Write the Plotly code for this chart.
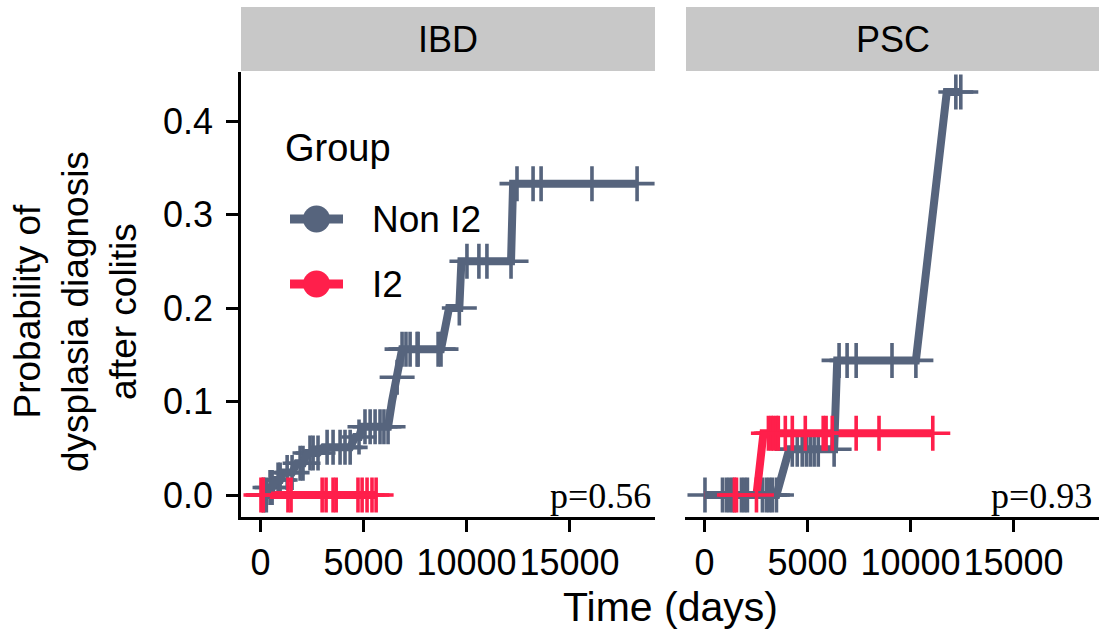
import plotly.graph_objects as go

# ---- cumulative incidence estimates (time in days, estimate, censored flag) ----
ibd_non_time = [0, 150, 280, 360, 460, 560, 700, 850, 950, 1100, 1290, 1530, 1770, 1920, 2060,
                2260, 2400, 2550, 2790, 3050, 3230, 3520, 3860, 4100, 4350, 4600, 4780, 4930,
                5070, 5320, 5560, 5800, 5990, 6190, 6380, 6630, 6820, 6870, 7060, 7260, 7600,
                7650, 8620, 8760, 9150, 9650, 9750, 10020, 10600, 10990, 12160, 12260, 12450,
                13230, 13620, 16090, 18280]
ibd_non_est = [0, 0, 0, 0.008, 0.008, 0.008, 0.016, 0.016, 0.016, 0.024, 0.024, 0.024, 0.034,
               0.034, 0.034, 0.045, 0.045, 0.045, 0.045, 0.051, 0.051, 0.051, 0.051, 0.051,
               0.051, 0.062, 0.062, 0.073, 0.073, 0.073, 0.073, 0.073, 0.073, 0.073, 0.100,
               0.126, 0.156, 0.156, 0.156, 0.156, 0.156, 0.156, 0.156, 0.156, 0.200, 0.200,
               0.250, 0.250, 0.250, 0.250, 0.250, 0.333, 0.333, 0.333, 0.333, 0.333, 0.333]
ibd_non_cens = [0, 1, 1, 0, 1, 1, 0, 1, 1, 0, 1, 1, 0, 1, 1, 0, 1, 1, 1, 0, 1, 1, 1, 1, 1, 0, 1,
                0, 1, 1, 1, 1, 1, 1, 0, 1, 0, 1, 1, 1, 1, 1, 1, 1, 0, 1, 0, 1, 1, 1, 1, 0, 1, 1,
                1, 1, 1]

ibd_i2_time = [0, 20, 130, 1330, 1480, 2990, 3180, 3520, 3670, 4730, 4930, 5170, 5410, 5610]
ibd_i2_est = [0] * len(ibd_i2_time)
ibd_i2_cens = [0] + [1] * (len(ibd_i2_time) - 1)

psc_non_time = [0, 20, 870, 1060, 1210, 1360, 1790, 1940, 2080, 2810, 3000, 3150, 3290, 3490,
                4110, 4260, 4500, 4740, 4940, 5130, 5320, 5520, 6290, 6440, 6530, 6920, 7360,
                9100, 10260, 11760, 12200, 12440]
psc_non_est = [0] * 14 + [0.049] * 9 + [0.144] * 6 + [0.431] * 3
psc_non_cens = [0] + [1] * 13 + [0] + [1] * 8 + [0] + [1] * 5 + [0, 1, 1]

psc_i2_time = [0, 1450, 1550, 2520, 2860, 3100, 3240, 3340, 3490, 3580, 3920, 4260, 4890,
               5760, 5900, 6200, 7360, 8470, 11080]
psc_i2_est = [0] * 4 + [0.066] * 15
psc_i2_cens = [0, 1, 1, 1, 0] + [1] * 14

panels = ["IBD", "PSC"]
p_values = ["p=0.56", "p=0.93"]
groups = ["Non I2", "I2"]
x_ticks = [0, 5000, 10000, 15000]
y_ticks = [0.0, 0.1, 0.2, 0.3, 0.4]

GRAY = "#56647D"
RED = "#FF1F4B"
STRIP = "#C8C8C8"
FONT = "Liberation Sans, Arial, Helvetica, sans-serif"

W, H = 1099, 637


def px(x):
    return x / W


def py(y):
    return (H - y) / H


series = {
    "IBD": {"Non I2": (ibd_non_time, ibd_non_est, ibd_non_cens),
            "I2": (ibd_i2_time, ibd_i2_est, ibd_i2_cens)},
    "PSC": {"Non I2": (psc_non_time, psc_non_est, psc_non_cens),
            "I2": (psc_i2_time, psc_i2_est, psc_i2_cens)},
}
colors = {"Non I2": GRAY, "I2": RED}

fig = go.Figure()


def censor_trace(t, e, c, color, xa, ya):
    xs = [ti for ti, ci in zip(t, c) if ci]
    ys = [ei for ei, ci in zip(e, c) if ci]
    return go.Scatter(x=xs, y=ys, mode="markers", xaxis=xa, yaxis=ya, showlegend=False,
                      hoverinfo="skip",
                      marker=dict(symbol="cross-thin", size=25, color=color,
                                  line=dict(width=3.6, color=color)))


def line_trace(t, e, color, xa, ya):
    return go.Scatter(x=t, y=e, mode="lines", xaxis=xa, yaxis=ya, showlegend=False,
                      line=dict(color=color, width=8), hoverinfo="skip")


for i, panel in enumerate(panels):
    xa = "x" if i == 0 else "x2"
    ya = "y" if i == 0 else "y2"
    gt, ge, gc = series[panel]["Non I2"]
    rt, re_, rc = series[panel]["I2"]
    fig.add_trace(censor_trace(gt, ge, gc, GRAY, xa, ya))
    fig.add_trace(line_trace(rt, re_, RED, xa, ya))
    fig.add_trace(line_trace(gt, ge, GRAY, xa, ya))
    fig.add_trace(censor_trace(rt, re_, rc, RED, xa, ya))

x_range = [-950, 19150]
y_range = [-0.0235, 0.4524]
y_dom = [py(517), py(72)]
x_doms = [[px(241), px(655)], [px(685), px(1099)]]

axis_common = dict(range=x_range, tickvals=x_ticks, ticktext=[str(v) for v in x_ticks],
                   showgrid=False, zeroline=False, showline=True, linecolor="black",
                   linewidth=2.5, ticks="outside", ticklen=12, tickwidth=2.5,
                   tickcolor="black", tickfont=dict(family=FONT, size=36, color="black"))

fig.update_layout(
    width=W, height=H,
    margin=dict(l=0, r=0, t=0, b=0),
    paper_bgcolor="white", plot_bgcolor="white",
    showlegend=False,
    xaxis=dict(domain=x_doms[0], anchor="y", **axis_common),
    xaxis2=dict(domain=x_doms[1], anchor="y2", **axis_common),
    yaxis=dict(domain=y_dom, anchor="x", range=y_range, tickvals=y_ticks,
               ticktext=["%.1f" % v for v in y_ticks], showgrid=False, zeroline=False,
               showline=True, linecolor="black", linewidth=2.5, ticks="outside",
               ticklen=12, tickwidth=2.5, tickcolor="black", ticklabelstandoff=6,
               tickfont=dict(family=FONT, size=36, color="black")),
    yaxis2=dict(domain=y_dom, anchor="x2", range=y_range, showgrid=False, zeroline=False,
                showline=False, showticklabels=False, ticks=""),
)

shapes = []
annotations = []

# facet strips
for (x0, x1), panel in zip([(241, 655), (686, 1099)], panels):
    shapes.append(dict(type="rect", xref="paper", yref="paper", x0=px(x0), x1=px(x1),
                       y0=py(71), y1=py(7), fillcolor=STRIP, line=dict(width=0), layer="below"))
    annotations.append(dict(x=px((x0 + x1) / 2), y=py(40), xref="paper", yref="paper",
                            text=panel, showarrow=False, xanchor="center", yanchor="middle",
                            font=dict(family=FONT, size=36, color="black")))

# p-values
for xr, txt in zip([653, 1094], p_values):
    annotations.append(dict(x=px(xr), y=py(496), xref="paper", yref="paper", text=txt,
                            showarrow=False, xanchor="right", yanchor="middle",
                            font=dict(family="Liberation Serif, Times New Roman, serif",
                                      size=36, color="black")))

# legend
annotations.append(dict(x=px(283), y=py(148), xref="paper", yref="paper", text="Group",
                        showarrow=False, xanchor="left", yanchor="middle",
                        font=dict(family=FONT, size=38, color="black")))
for yc, g in zip([219, 284], groups):
    c = colors[g]
    shapes.append(dict(type="line", xref="paper", yref="paper", x0=px(290), x1=px(343),
                       y0=py(yc), y1=py(yc), line=dict(color=c, width=9)))
    shapes.append(dict(type="circle", xref="paper", yref="paper", x0=px(303), x1=px(330),
                       y0=py(yc + 13.5), y1=py(yc - 13.5), fillcolor=c, line=dict(width=0)))
    annotations.append(dict(x=px(370), y=py(yc), xref="paper", yref="paper", text=g,
                            showarrow=False, xanchor="left", yanchor="middle",
                            font=dict(family=FONT, size=37, color="black")))

# axis titles
annotations.append(dict(x=px(670), y=py(607), xref="paper", yref="paper", text="Time (days)",
                        showarrow=False, xanchor="center", yanchor="middle",
                        font=dict(family=FONT, size=41, color="black")))
annotations.append(dict(x=px(75), y=py(312), xref="paper", yref="paper",
                        text="Probability of<br>dysplasia diagnosis<br>after colitis",
                        showarrow=False, textangle=-90, xanchor="center", yanchor="middle",
                        align="center", font=dict(family=FONT, size=37, color="black")))

fig.update_layout(shapes=shapes, annotations=annotations)
fig.write_html("out.html")
